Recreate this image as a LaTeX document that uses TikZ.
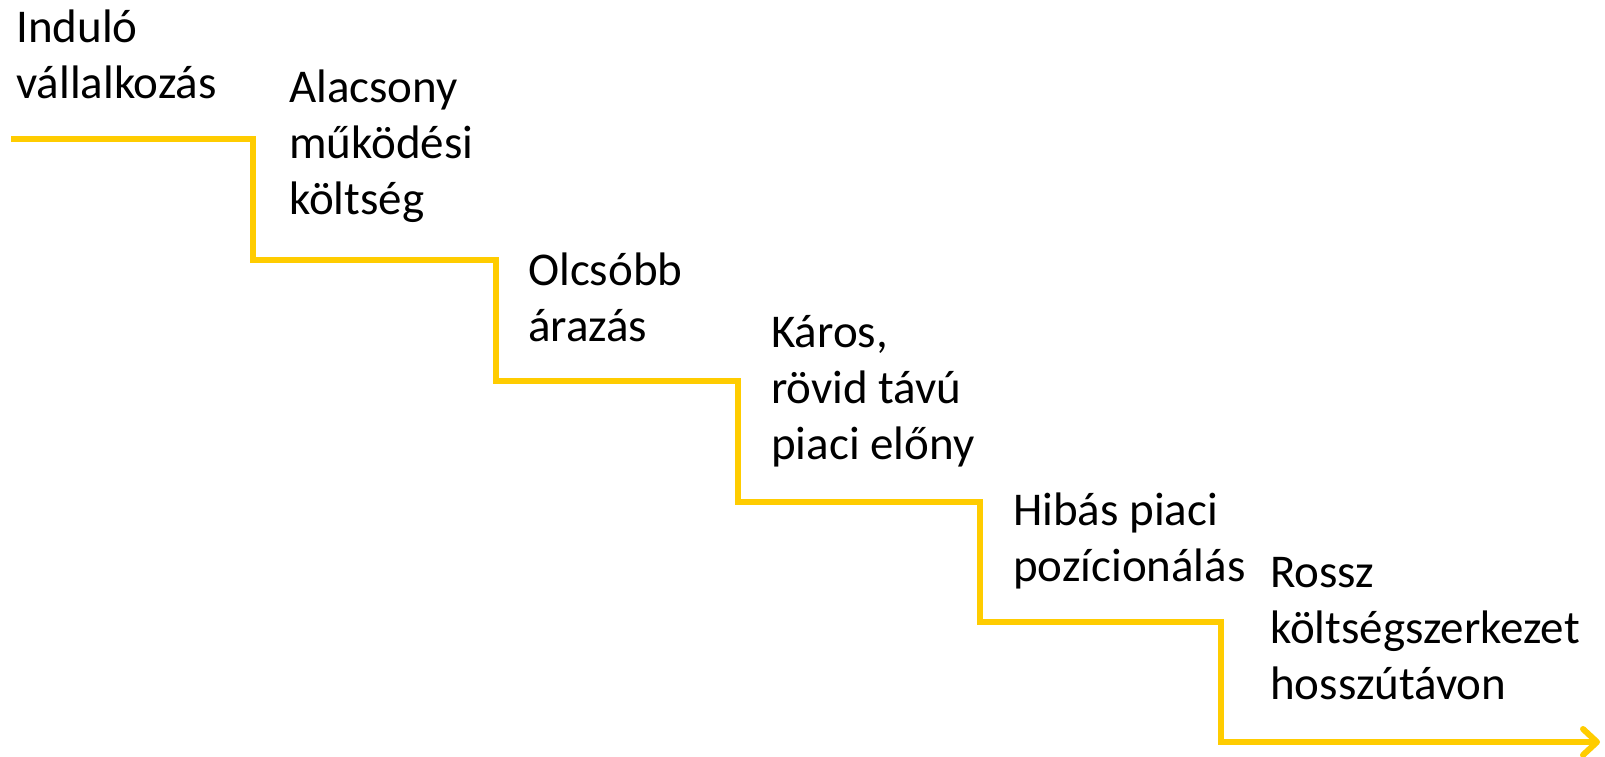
\documentclass[tikz,border=0pt]{standalone}
\usepackage{fontspec}
\setmainfont{Carlito}
\usetikzlibrary{arrows.meta}
\definecolor{stairyellow}{HTML}{FFCC00}
\begin{document}
\begin{tikzpicture}[x=1pt,y=-1pt,
  lbl/.style={anchor=base west,inner sep=0pt,font=\fontsize{47}{56}\selectfont,text=black},
  stair/.style={draw=stairyellow,line width=6pt,line join=miter,
    -{Straight Barb[length=14pt,width=26pt,line cap=round,line join=round]}}]
\useasboundingbox (0,0) rectangle (1605,756);
\coordinate (s0) at (11,139);
\coordinate (c1) at (253,139);
\coordinate (s1) at (253,260);
\coordinate (c2) at (496,260);
\coordinate (s2) at (496,381);
\coordinate (c3) at (738,381);
\coordinate (s3) at (738,502);
\coordinate (c4) at (980,502);
\coordinate (s4) at (980,622);
\coordinate (c5) at (1221,622);
\coordinate (s5) at (1221,742);
\coordinate (e) at (1600,742);
\path[stair] (s0) -- (c1) -- (s1) -- (c2) -- (s2) -- (c3) -- (s3) -- (c4) -- (s4) -- (c5) -- (s5) -- (e);
\node[lbl] (t1) at (16,42) {\begin{tabular}[t]{@{}l@{}}Induló\\vállalkozás\end{tabular}};
\node[lbl] (t2) at (289,102) {\begin{tabular}[t]{@{}l@{}}Alacsony\\működési\\költség\end{tabular}};
\node[lbl] (t3) at (528,285) {\begin{tabular}[t]{@{}l@{}}Olcsóbb\\árazás\end{tabular}};
\node[lbl] (t4) at (771,347) {\begin{tabular}[t]{@{}l@{}}Káros,\\rövid távú\\piaci előny\end{tabular}};
\node[lbl] (t5) at (1013,525) {\begin{tabular}[t]{@{}l@{}}Hibás piaci\\pozícionálás\end{tabular}};
\node[lbl] (t6) at (1270,587) {\begin{tabular}[t]{@{}l@{}}Rossz\\költségszerkezet\\hosszútávon\end{tabular}};
\end{tikzpicture}
\end{document}
